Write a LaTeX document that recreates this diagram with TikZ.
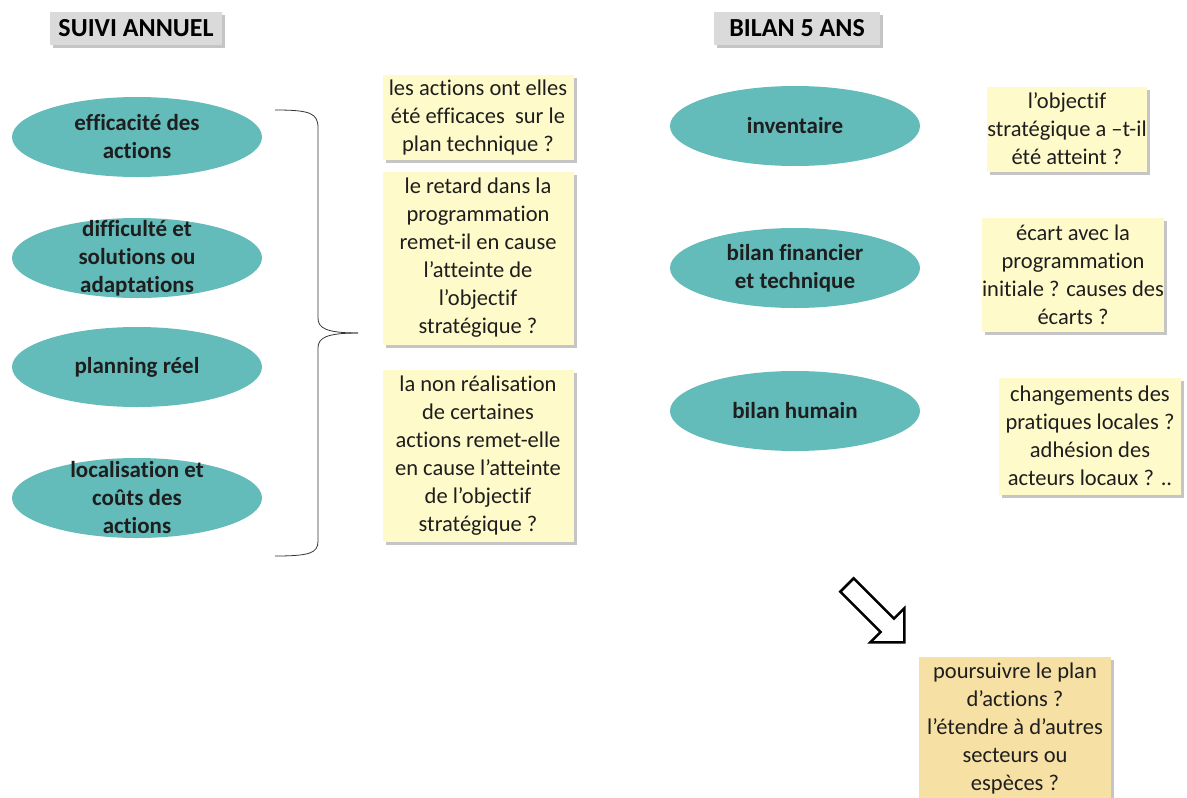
\documentclass[tikz,border=0pt]{standalone}
\usepackage{fontspec}
\setmainfont{Carlito}[Ligatures={NoCommon}]
\usepackage{color}
\definecolor{myteal}{RGB}{99,187,186}
\definecolor{myyellow}{RGB}{255,250,202}
\definecolor{mytan}{RGB}{246,224,163}
\definecolor{mygray}{RGB}{218,218,218}
\definecolor{mytext}{RGB}{30,30,30}
\usepackage{tikz}
\usetikzlibrary{shapes.geometric,shadows,positioning}
\tikzstyle{oval}=[ellipse,fill=myteal,minimum width=250pt,minimum height=80pt,inner sep=0pt]
\tikzstyle{ovaltext}=[align=center,inner sep=0pt,text=mytext,font=\fontsize{23}{28}\selectfont\bfseries]
\tikzstyle{note}=[fill=myyellow,align=center,inner sep=0pt,text=mytext,font=\fontsize{22.5}{28}\selectfont,drop shadow={shadow xshift=3pt,shadow yshift=-3pt,fill=black!45}]
\tikzstyle{heading}=[fill=mygray,inner sep=0pt,text=black,font=\fontsize{26}{28}\selectfont\bfseries,drop shadow={shadow xshift=3pt,shadow yshift=-3pt,fill=black!45}]

\begin{document}
\begin{tikzpicture}[x=1pt,y=-1pt]
\useasboundingbox (0, 0) rectangle (1187, 798);
\draw (136, 28) node [heading, minimum width=172pt, minimum height=33pt] (suivi) {SUIVI ANNUEL};
\draw (797, 28) node [heading, minimum width=166pt, minimum height=33pt] (bilan) {BILAN 5 ANS};
\draw (137, 137) node [oval, label={[ovaltext]center:efficacité des\\actions}] (efficacite) {};
\draw (137, 258) node [oval, label={[ovaltext]center:difficulté et\\solutions ou\\adaptations}] (difficulte) {};
\draw (137, 367) node [oval, label={[ovaltext]center:planning réel}] (planning) {};
\draw (137, 498) node [oval, label={[ovaltext]center:localisation et\\coûts des\\actions}] (localisation) {};
\draw (795, 126) node [oval, label={[ovaltext]center:inventaire}] (inventaire) {};
\draw (795, 268) node [oval, label={[ovaltext]center:bilan financier\\et technique}] (financier) {};
\draw (795, 411) node [oval, label={[ovaltext]center:bilan humain}] (humain) {};
\draw (478, 117) node [note, minimum width=191pt, minimum height=85pt] (qefficaces) {les actions ont elles\\été efficaces \ sur le\\plan technique ?};
\draw (478, 258) node [note, minimum width=191pt, minimum height=173pt] (qretard) {le retard dans la\\programmation\\remet-il en cause\\l’atteinte de\\l’objectif\\stratégique ?};
\draw (478, 456) node [note, minimum width=191pt, minimum height=172pt] (qnonreal) {la non réalisation\\de certaines\\actions remet-elle\\en cause l’atteinte\\de l’objectif\\stratégique ?};
\draw (1067, 129) node [note, minimum width=159pt, minimum height=85pt] (qatteint) {l’objectif\\stratégique a –t-il\\été atteint ?};
\draw (1073, 275) node [note, minimum width=172pt, minimum height=114pt] (qecart) {écart avec la\\programmation\\initiale ? causes des\\écarts ?};
\draw (1090, 436) node [note, minimum width=182pt, minimum height=117pt] (qpratiques) {changements des\\pratiques locales ?\\adhésion des\\acteurs locaux ? ..};
\draw (1015, 728) node [note, fill=mytan, minimum width=192pt, minimum height=142pt] (qpoursuivre) {poursuivre le plan\\d’actions ?\\l’étendre à d’autres\\secteurs ou\\espèces ?};
\draw[thick, black!80] (275, 110) .. controls (310, 110) and (318, 113) .. (318, 128) -- (318, 318) .. controls (318, 328) and (326, 333) .. (358, 333);
\draw[thick, black!80] (358, 333) .. controls (326, 333) and (318, 338) .. (318, 348) -- (318, 541) .. controls (318, 553) and (310, 556) .. (275, 556);
\draw[line width=2.5pt, fill=white] (853.7, 578.3) -- (894, 618.6) -- (904.3, 608.3) -- (904.3, 642.3) -- (870.3, 642.3) -- (880.6, 632) -- (840.3, 591.7) -- cycle;
\end{tikzpicture}
\end{document}
